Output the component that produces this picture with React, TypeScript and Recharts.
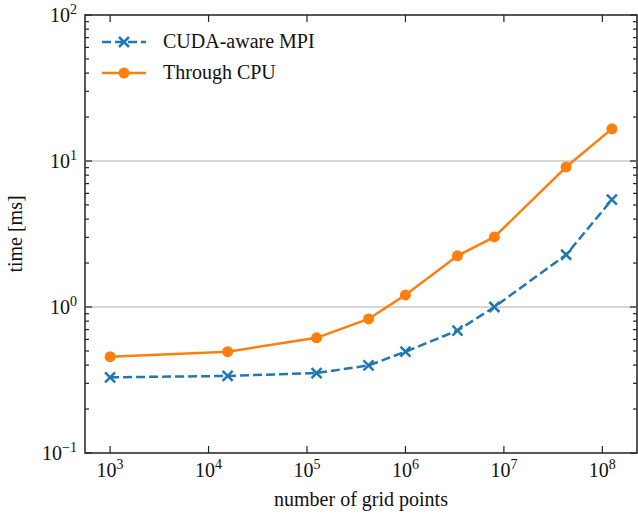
import { LineChart, Line, XAxis, YAxis, ReferenceLine, ReferenceArea } from 'recharts'

const gridPoints = [1000, 15625, 125000, 421875, 1000000, 3375000, 8000000, 42875000, 125000000]
const cudaAware = [0.33, 0.337, 0.353, 0.398, 0.494, 0.69, 1.0, 2.28, 5.43]
const throughCpu = [0.457, 0.494, 0.615, 0.828, 1.21, 2.24, 3.02, 9.1, 16.6]

const xTicks = [1e3, 1e4, 1e5, 1e6, 1e7, 1e8]
const yMajor = [0.1, 1, 10, 100]
const yMinor = [0.2, 0.3, 0.4, 0.5, 0.6, 0.7, 0.8, 0.9, 2, 3, 4, 5, 6, 7, 8, 9, 20, 30, 40, 50, 60, 70, 80, 90]

const data = gridPoints.map((n, i) => ({ n, cuda: cudaAware[i], cpu: throughCpu[i] }))

const BLUE = '#1f77b4'
const ORANGE = '#ff7f0e'
const FONT = '"Liberation Serif", "Times New Roman", serif'

const W = 638
const H = 515
const LEFT = 85
const RIGHT = 637
const TOP = 15
const BOTTOM = 453

const X_DOMAIN = [Math.pow(10, 2.745), Math.pow(10, 8.352)]

function expOf(v: number) {
  const e = Math.round(Math.log10(v))
  return e < 0 ? '\u2212' + Math.abs(e) : String(e)
}

function XTick(props: any) {
  const { x, payload } = props
  return (
    <g>
      <line x1={x} x2={x} y1={BOTTOM} y2={BOTTOM - 7} stroke="#222" strokeWidth={1.2} />
      <line x1={x} x2={x} y1={TOP} y2={TOP + 7} stroke="#222" strokeWidth={1.2} />
      <text x={x} y={BOTTOM + 24} textAnchor="middle" fontFamily={FONT} fontSize={20} fill="#111">
        10
        <tspan fontSize={14} dy={-8}>{expOf(payload.value)}</tspan>
      </text>
    </g>
  )
}

function YTick(props: any) {
  const { y, payload } = props
  const major = yMajor.includes(payload.value)
  const len = major ? 7 : 4
  return (
    <g>
      <line x1={LEFT} x2={LEFT + len} y1={y} y2={y} stroke="#222" strokeWidth={1.2} />
      <line x1={RIGHT} x2={RIGHT - len} y1={y} y2={y} stroke="#222" strokeWidth={1.2} />
      {major && (
        <text x={LEFT - 8} y={y + 7} textAnchor="end" fontFamily={FONT} fontSize={20} fill="#111">
          10
          <tspan fontSize={14} dy={-8}>{expOf(payload.value)}</tspan>
        </text>
      )}
    </g>
  )
}

function CrossIcon() {
  return (
    <svg width={44} height={14}>
      <line x1={0} x2={44} y1={7} y2={7} stroke={BLUE} strokeWidth={2.5} strokeDasharray="9 4" />
      <path d="M17 2 L27 12 M27 2 L17 12" stroke={BLUE} strokeWidth={2.5} />
    </svg>
  )
}

function DotIcon() {
  return (
    <svg width={44} height={14}>
      <line x1={0} x2={44} y1={7} y2={7} stroke={ORANGE} strokeWidth={2.5} />
      <circle cx={22} cy={7} r={5.5} fill={ORANGE} />
    </svg>
  )
}

function LegendBox() {
  const row = { display: 'flex', alignItems: 'center', height: 31 }
  const label = { marginLeft: 17, fontFamily: FONT, fontSize: 20, color: '#111' }
  return (
    <div style={{ position: 'absolute', left: 102, top: 26 }}>
      <div style={row}>
        <CrossIcon />
        <span style={label}>CUDA-aware MPI</span>
      </div>
      <div style={row}>
        <DotIcon />
        <span style={label}>Through CPU</span>
      </div>
    </div>
  )
}

function CrossDot(props: any) {
  const { cx, cy } = props
  if (cx == null || cy == null) return null
  const s = 5
  return (
    <path
      d={`M${cx - s} ${cy - s} L${cx + s} ${cy + s} M${cx + s} ${cy - s} L${cx - s} ${cy + s}`}
      stroke={BLUE}
      strokeWidth={2.5}
      fill="none"
    />
  )
}

export default function App() {
  return (
    <div style={{ position: 'absolute', left: 0, top: 0, width: W, height: H, background: '#fff' }}>
      <LineChart width={W} height={H} data={data} margin={{ top: TOP, right: W - RIGHT, left: 0, bottom: 0 }}>
        <XAxis
          dataKey="n"
          type="number"
          scale="log"
          domain={X_DOMAIN}
          allowDataOverflow
          ticks={xTicks}
          interval={0}
          tick={<XTick />}
          tickLine={false}
          axisLine={false}
          height={H - BOTTOM}
          label={{
            value: 'number of grid points',
            position: 'insideBottom',
            offset: 9,
            style: { fontFamily: FONT, fontSize: 20, fill: '#111' },
          }}
        />
        <YAxis
          type="number"
          scale="log"
          domain={[0.1, 100]}
          allowDataOverflow
          ticks={[...yMajor, ...yMinor]}
          interval={0}
          tick={<YTick />}
          tickLine={false}
          axisLine={false}
          width={LEFT}
          label={{
            value: 'time [ms]',
            angle: -90,
            position: 'insideLeft',
            offset: 15,
            textAnchor: 'middle',
            style: { fontFamily: FONT, fontSize: 20, fill: '#111', textAnchor: 'middle' },
          }}
        />
        <ReferenceLine y={1} stroke="#c8c8c8" strokeWidth={1.5} />
        <ReferenceLine y={10} stroke="#c8c8c8" strokeWidth={1.5} />
        <ReferenceArea
          x1={X_DOMAIN[0]}
          x2={X_DOMAIN[1]}
          y1={0.1}
          y2={100}
          fill="none"
          fillOpacity={0}
          stroke="#222"
          strokeWidth={1.5}
          ifOverflow="visible"
        />
        <Line
          dataKey="cuda"
          stroke={BLUE}
          strokeWidth={2.5}
          strokeDasharray="9 4"
          dot={<CrossDot />}
          activeDot={false}
          isAnimationActive={false}
        />
        <Line
          dataKey="cpu"
          stroke={ORANGE}
          strokeWidth={2.5}
          dot={{ r: 5.5, fill: ORANGE, stroke: 'none' }}
          activeDot={false}
          isAnimationActive={false}
        />
      </LineChart>
      <LegendBox />
    </div>
  )
}
